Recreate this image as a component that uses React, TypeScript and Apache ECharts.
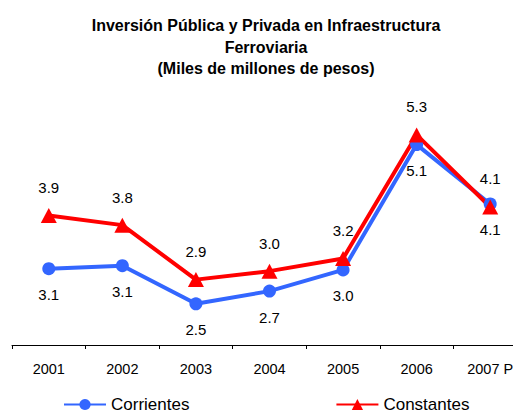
import React, { useEffect, useRef } from 'react';
import * as echarts from 'echarts';

const titleLines = [
  'Inversión Pública y Privada en Infraestructura',
  'Ferroviaria',
  '(Miles de millones de pesos)',
];
const categories = ['2001', '2002', '2003', '2004', '2005', '2006', '2007 P'];
const corrientes = [3.06, 3.11, 2.48, 2.69, 3.04, 5.11, 4.13];
const constantes = [3.94, 3.78, 2.88, 3.02, 3.23, 5.27, 4.08];
const seriesNames = ['Corrientes', 'Constantes'];

const FONT = 'Arial, "Liberation Sans", sans-serif';

export default function App() {
  const ref = useRef<HTMLDivElement>(null);
  useEffect(() => {
    if (!ref.current) return;
    const chart = echarts.init(ref.current, null, { renderer: 'svg' });
    const fmt = (p: any) => Number(p.value).toFixed(1);
    chart.setOption({
      animation: false,
      backgroundColor: '#fff',
      title: {
        text: titleLines.join('\n'),
        left: 266,
        top: 15,
        textAlign: 'center',
        padding: 0,
        textStyle: {
          fontFamily: FONT,
          fontSize: 16,
          fontWeight: 'bold',
          color: '#000',
          lineHeight: 21.5,
        },
      },
      legend: {
        left: 63,
        top: 396,
        itemWidth: 42,
        itemHeight: 14,
        itemGap: 146,
        padding: 0,
        data: seriesNames,
        textStyle: { fontFamily: FONT, fontSize: 17, lineHeight: 17, color: '#000' },
      },
      grid: {
        left: 12,
        width: 515,
        top: 121,
        height: 224,
        containLabel: false,
        outerBoundsMode: 'none',
      },
      xAxis: {
        type: 'category',
        data: categories,
        boundaryGap: true,
        axisLine: { lineStyle: { color: '#000', width: 1 } },
        axisTick: { show: true, length: 4, lineStyle: { color: '#000' } },
        axisLabel: { fontFamily: FONT, fontSize: 14.5, color: '#000', margin: 16, interval: 0 },
        splitLine: { show: false },
      },
      yAxis: {
        type: 'value',
        min: 1.8,
        max: 5.5,
        show: false,
        splitLine: { show: false },
      },
      series: [
        {
          name: seriesNames[0],
          type: 'line',
          data: corrientes,
          symbol: 'circle',
          symbolSize: 13,
          color: '#3366FF',
          lineStyle: { color: '#3366FF', width: 4 },
          itemStyle: { color: '#3366FF' },
          label: {
            show: true,
            position: 'bottom',
            distance: 12,
            formatter: fmt,
            fontFamily: FONT,
            fontSize: 15,
            color: '#000',
          },
        },
        {
          name: seriesNames[1],
          type: 'line',
          data: constantes,
          symbol: 'triangle',
          symbolSize: [16, 15],
          color: '#FF0000',
          lineStyle: { color: '#FF0000', width: 4 },
          itemStyle: { color: '#FF0000' },
          label: {
            show: true,
            position: 'top',
            distance: 13,
            formatter: fmt,
            fontFamily: FONT,
            fontSize: 15,
            color: '#000',
          },
        },
      ],
    });
    return () => chart.dispose();
  }, []);
  return (
    <div
      ref={ref}
      style={{ position: 'fixed', left: 0, top: 0, width: 513, height: 413 }}
    />
  );
}
